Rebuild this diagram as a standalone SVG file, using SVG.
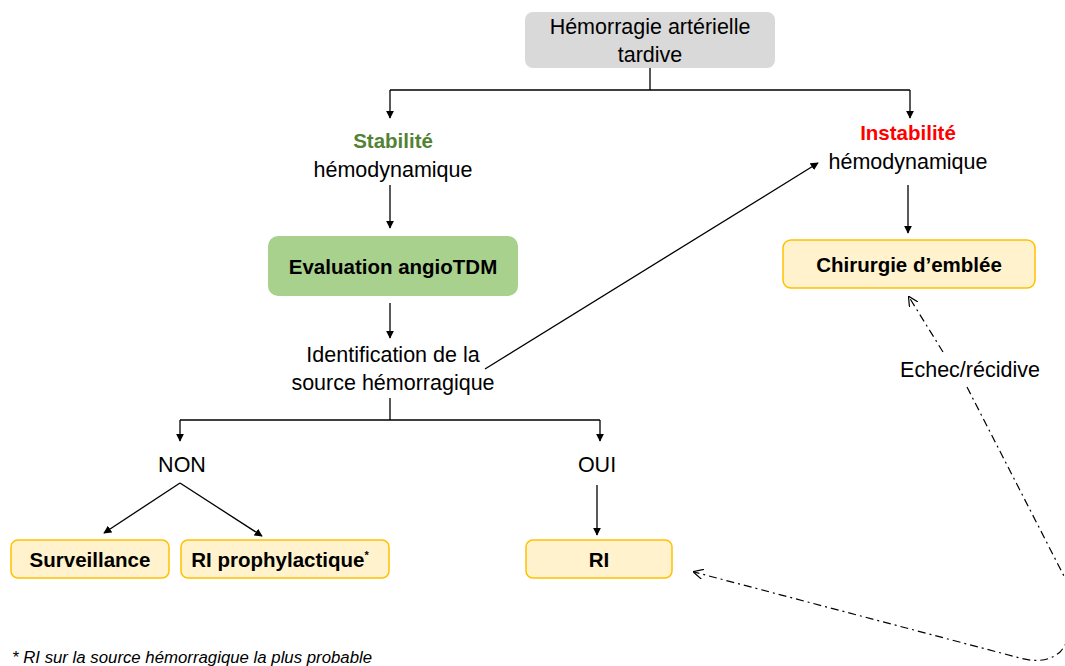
<svg xmlns="http://www.w3.org/2000/svg" width="1065" height="666" viewBox="0 0 1065 666">
<defs>
<style>
text{font-family:"Liberation Sans",Arial,sans-serif;fill:#000;text-anchor:middle}
.t{font-size:21.5px}
.b{font-size:20.5px;font-weight:bold}
.c{fill:none;stroke:#000;stroke-width:1.3}
.dd{fill:none;stroke:#000;stroke-width:1.2;stroke-dasharray:8 4 2 4}
.y{fill:#fff2cc;stroke:#ffc000;stroke-width:1.5}
</style>
<marker id="a" viewBox="0 0 10 10" refX="9" refY="5" markerWidth="8" markerHeight="8" markerUnits="userSpaceOnUse" orient="auto"><path d="M0,0 L10,5 L0,10 z" fill="#000"/></marker>
<marker id="o" viewBox="0 0 10 10" refX="9" refY="5" markerWidth="10" markerHeight="10" markerUnits="userSpaceOnUse" orient="auto"><path d="M0,0 L10,5 L0,10" fill="none" stroke="#000" stroke-width="1.2"/></marker>
</defs>
<rect width="1065" height="666" fill="#fff"/>
<g id="connectors">
<path class="c" d="M650,68 V90 M390,90 H910"/>
<path class="c" d="M390,90 V118" marker-end="url(#a)"/>
<path class="c" d="M910,90 V118" marker-end="url(#a)"/>
<path class="c" d="M390,185 V228" marker-end="url(#a)"/>
<path class="c" d="M390,303 V338" marker-end="url(#a)"/>
<path class="c" d="M485,369 L818,163" marker-end="url(#a)"/>
<path class="c" d="M908,185 V233" marker-end="url(#a)"/>
<path class="c" d="M390,398 V420 M180,420 H600"/>
<path class="c" d="M180,420 V441" marker-end="url(#a)"/>
<path class="c" d="M600,420 V441" marker-end="url(#a)"/>
<path class="c" d="M180,483 L104,533" marker-end="url(#a)"/>
<path class="c" d="M180,483 L262,536" marker-end="url(#a)"/>
<path class="c" d="M597,485 V535" marker-end="url(#a)"/>
<path class="dd" d="M967,387 L1066,580 Q1080,630 1060,652 Q1045,665 1020,658 L694,572" marker-end="url(#o)"/>
<path class="dd" d="M943,352 L909,297" marker-end="url(#o)"/>
</g>
<g id="n-hemorragie">
<rect x="525" y="12" width="250" height="56" rx="8" fill="#d9d9d9"/>
<text class="t" x="650" y="34">Hémorragie artérielle</text>
<text class="t" x="650" y="62">tardive</text>
</g>
<g id="n-stabilite">
<text x="393" y="148" style="font-size:20.5px;font-weight:bold;fill:#548235">Stabilité</text>
<text class="t" x="393" y="177">hémodynamique</text>
</g>
<g id="n-instabilite">
<text x="908" y="140" style="font-size:20.5px;font-weight:bold;fill:#ff0000">Instabilité</text>
<text class="t" x="908" y="169">hémodynamique</text>
</g>
<g id="n-angio">
<rect x="268" y="236" width="250" height="60" rx="10" fill="#a9d18e"/>
<text class="b" x="393" y="274">Evaluation angioTDM</text>
</g>
<g id="n-chirurgie">
<rect class="y" x="783" y="240" width="252" height="48" rx="8"/>
<text class="b" x="909" y="272">Chirurgie d’emblée</text>
</g>
<g id="n-identification">
<text class="t" x="393" y="362">Identification de la</text>
<text class="t" x="393" y="390">source hémorragique</text>
</g>
<g id="n-non"><text class="t" x="182" y="472">NON</text></g>
<g id="n-oui"><text class="t" x="597" y="472">OUI</text></g>
<g id="n-surveillance">
<rect class="y" x="11" y="540" width="158" height="38" rx="7"/>
<text class="b" x="90" y="567">Surveillance</text>
</g>
<g id="n-riproph">
<rect class="y" x="181" y="540" width="208" height="38" rx="7"/>
<text class="b" x="280" y="567">RI prophylactique<tspan font-size="11" dy="-8">*</tspan></text>
</g>
<g id="n-ri">
<rect class="y" x="526" y="540" width="146" height="38" rx="7"/>
<text class="b" x="599" y="567">RI</text>
</g>
<g id="n-echec"><text class="t" x="970" y="377">Echec/récidive</text></g>
<g id="footnote"><text x="12" y="663" style="font-size:16.8px;font-style:italic;text-anchor:start">* RI sur la source hémorragique la plus probable</text></g>
</svg>
